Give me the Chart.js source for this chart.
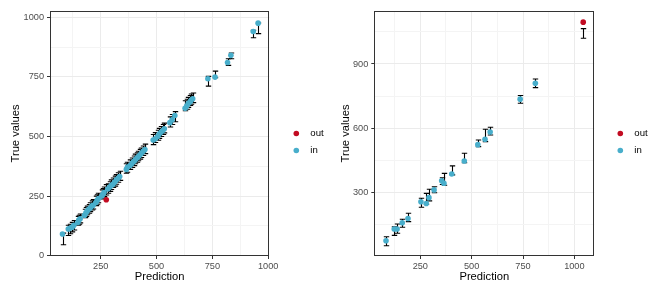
<!DOCTYPE html>
<html>
<head>
<meta charset="utf-8">
<script src="https://cdn.jsdelivr.net/npm/chart.js@4.4.1/dist/chart.umd.min.js"></script>
<style>
  body { margin: 0; background: #fff; }
  canvas { position: absolute; top: 0; }
</style>
</head>
<body>
<canvas id="leftChart" width="332" height="295" style="left:0"></canvas>
<canvas id="rightChart" width="332" height="295" style="left:332px"></canvas>
<script>
// left panel: prediction, true value, interval
const predL = [79,105,112,122,130,148,152,158,178,184,190,196,203,210,216,228,234,240,255,260,265,275,282,290,298,305,312,320,328,335,365,370,382,390,398,405,412,418,425,432,440,448,485,495,505,512,520,528,535,560,570,582,628,635,642,650,655,662,730,762,818,833,933,955]
const trueL = [91,112,115,120,128,140,150,155,170,180,188,195,200,208,212,222,232,240,250,258,265,235,280,288,295,300,308,318,325,332,362,372,378,388,395,402,410,415,422,430,438,445,485,490,500,510,518,525,532,558,570,588,618,628,638,645,652,658,742,749,810,840,940,975]
const lowL = [46,85,92,100,108,128,132,138,160,165,172,178,185,192,196,210,216,222,238,242,248,255,262,270,278,286,292,300,308,316,346,350,362,370,378,386,392,398,405,412,420,428,466,475,484,492,500,508,515,540,550,562,608,614,622,630,635,642,711,746,798,826,914,931]
const highL = [95,128,132,140,148,165,170,175,195,202,208,215,222,230,236,250,256,262,276,282,288,298,302,310,318,326,334,340,348,354,386,392,402,410,418,426,432,438,446,452,460,468,508,516,526,534,542,550,556,582,592,604,650,656,664,672,678,682,752,774,826,850,945,976]

// right panel
const predR = [83,123,137,162,190,253,279,292,317,354,365,403,464,530,565,590,736,810,1043]
const trueR = [76,131,131,160,180,258,250,277,313,356,344,387,448,524,549,583,736,810,1095]
const lowR = [53,101,111,139,165,232,246,262,300,338,335,383,440,515,538,569,717,790,1020]
const highR = [95,141,154,176,204,274,297,316,328,370,390,425,484,546,596,605,753,830,1065]

// axis breaks
const xMajorL = [250, 500, 750, 1000]
const xMinorL = [125, 375, 625, 875]
const yMajorL = [0, 250, 500, 750, 1000]
const yMinorL = [125, 375, 625, 875]
const xMajorR = [250, 500, 750, 1000]
const xMinorR = [125, 375, 625, 875]
const yMajorR = [300, 600, 900]
const yMinorR = [150, 450, 750, 1050]

const groups = ['out', 'in']
const groupColors = { out: '#C20B22', in: '#48AECB' }

Chart.defaults.font.family = '"Liberation Sans", Arial, sans-serif'

function points(pred, tru, low, high, group) {
  const pts = []
  pred.forEach((p, i) => {
    const isOut = tru[i] < low[i] || tru[i] > high[i]
    if ((group === 'out') === isOut) pts.push({ x: p, y: tru[i] })
  })
  return pts
}

const panelPlugin = {
  id: 'panel',
  beforeDatasetsDraw(chart, args, opts) {
    const { ctx } = chart
    const x = chart.scales.x, y = chart.scales.y
    ctx.save()
    ctx.strokeStyle = '#000'
    ctx.lineWidth = 1.1
    opts.pred.forEach((p, i) => {
      const px = Math.round(x.getPixelForValue(p)) + 0.5
      const y1 = y.getPixelForValue(opts.low[i])
      const y2 = y.getPixelForValue(opts.high[i])
      ctx.beginPath()
      ctx.moveTo(px, y1); ctx.lineTo(px, y2)
      ctx.moveTo(px - 2.7, y1); ctx.lineTo(px + 2.7, y1)
      ctx.moveTo(px - 2.7, y2); ctx.lineTo(px + 2.7, y2)
      ctx.stroke()
    })
    ctx.restore()
  },
  afterDraw(chart, args, opts) {
    const { ctx, chartArea: a } = chart
    ctx.save()
    ctx.strokeStyle = '#333333'
    ctx.lineWidth = 1
    ctx.strokeRect(Math.round(a.left) + 0.5, Math.round(a.top) + 0.5,
      Math.round(a.right - a.left) - 1, Math.round(a.bottom - a.top) - 1)
    // legend
    ctx.font = '9.6px "Liberation Sans", Arial, sans-serif'
    ctx.textBaseline = 'middle'
    chart.data.datasets.forEach((ds, i) => {
      const ly = opts.legendY + i * 17
      ctx.fillStyle = ds.backgroundColor
      ctx.beginPath()
      ctx.arc(a.right + opts.dotOff, ly, 2.8, 0, Math.PI * 2)
      ctx.fill()
      ctx.fillStyle = '#000'
      ctx.fillText(ds.label, a.right + opts.dotOff + 14, ly)
    })
    ctx.restore()
  }
}

function axis(min, max, major, minor, title, titlePad, size, horizontal) {
  return {
    type: 'linear',
    min: min,
    max: max,
    afterBuildTicks: s => { s.ticks = major.concat(minor).sort((a, b) => a - b).map(v => ({ value: v })) },
    afterFit: s => { if (horizontal) s.height = size; else s.width = size },
    border: { display: false },
    grid: {
      color: c => major.includes(c.tick.value) ? '#EBEBEB' : '#F4F4F4',
      tickColor: c => major.includes(c.tick.value) ? '#333333' : 'rgba(0,0,0,0)',
      lineWidth: 1,
      tickLength: 3
    },
    ticks: {
      autoSkip: false,
      maxRotation: 0,
      padding: horizontal ? 2 : 3,
      color: '#4D4D4D',
      font: { size: 9.2 },
      callback: v => major.includes(v) ? String(v) : ''
    },
    title: {
      display: true,
      text: title,
      color: '#000',
      font: { size: 11.2 },
      padding: horizontal ? { top: 0, bottom: titlePad } : { top: titlePad, bottom: 0 }
    }
  }
}

function makeConfig(pred, tru, low, high, xs, ys, padRight, yWidth, legendY, dotOff) {
  return {
    type: 'scatter',
    data: {
      datasets: groups.map(g => ({
        label: g,
        data: points(pred, tru, low, high, g),
        backgroundColor: groupColors[g],
        borderWidth: 0,
        pointRadius: 2.8
      }))
    },
    options: {
      responsive: false,
      animation: false,
      layout: { padding: { top: 11, right: padRight, left: 0, bottom: 0 } },
      plugins: {
        legend: { display: false },
        tooltip: { enabled: false },
        panel: { pred: pred, low: low, high: high, legendY: legendY, dotOff: dotOff }
      },
      scales: {
        x: axis(xs[0], xs[1], xs[2], xs[3], 'Prediction', 11.4, 39, true),
        y: axis(ys[0], ys[1], ys[2], ys[3], 'True values', ys[4], yWidth, false)
      }
    },
    plugins: [panelPlugin]
  }
}

const chart1 = new Chart(document.getElementById('leftChart'),
  makeConfig(predL, trueL, lowL, highL,
    [23, 1005, xMajorL, xMinorL], [-1, 1026, yMajorL, yMinorL, 9.2], 62.7, 50, 133.5, 27))

const chart2 = new Chart(document.getElementById('rightChart'),
  makeConfig(predR, trueR, lowR, highR,
    [26, 1097, xMajorR, xMinorR], [5, 1147, yMajorR, yMinorR, 7.2], 69.7, 42.3, 133.5, 26))
</script>
</body>
</html>
